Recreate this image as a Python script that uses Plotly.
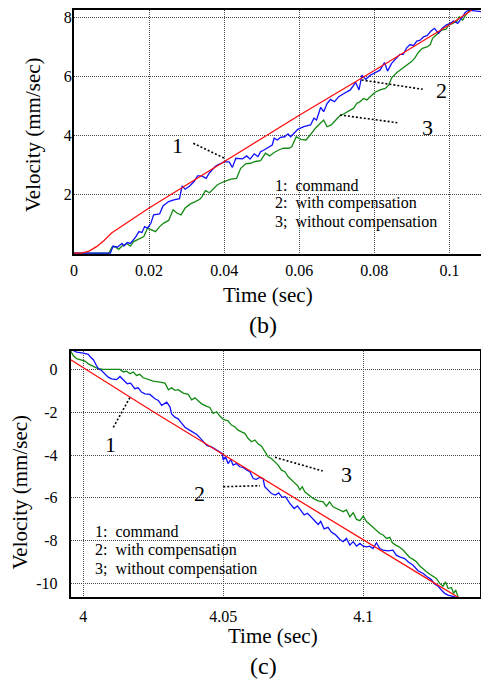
import plotly.graph_objects as go

W, H = 481, 682
FONT = "Liberation Serif, Times New Roman, serif"

# ---------------- data: panel (b) ----------------
B_XTICKS = [0, 0.02, 0.04, 0.06, 0.08, 0.1]
B_XTICKTEXT = ["0", "0.02", "0.04", "0.06", "0.08", "0.1"]
B_YTICKS = [0, 2, 4, 6, 8]
B_YTICKTEXT = ["", "2", "4", "6", "8"]

B_COMMAND = [(0, 0), (0.002, 0.0), (0.004, 0.07), (0.006, 0.22), (0.008, 0.43), (0.010, 0.68),
             (0.020, 1.53), (0.040, 3.10), (0.060, 4.68), (0.080, 6.20), (0.100, 7.75),
             (0.1054, 8.20), (0.109, 8.55)]

B_WITH = [(0, 0), (0.0097, 0.0), (0.0104, 0.24), (0.0115, 0.2), (0.0128, 0.33), (0.0133, 0.24),
          (0.0142, 0.36), (0.015, 0.33), (0.0164, 0.54), (0.0173, 0.73), (0.0181, 0.7),
          (0.0188, 0.9), (0.0196, 0.85), (0.0205, 1.02), (0.0212, 1.3), (0.0228, 1.33),
          (0.0237, 1.6), (0.0252, 1.75), (0.0266, 1.81), (0.0281, 1.85), (0.0288, 2.28),
          (0.0296, 2.17), (0.0308, 2.28), (0.032, 2.43), (0.0329, 2.62), (0.034, 2.62),
          (0.0352, 2.54), (0.0361, 2.73), (0.0376, 2.94), (0.0382, 2.99), (0.04, 3.1),
          (0.0413, 3.1), (0.0422, 2.91), (0.0431, 3.22), (0.0449, 3.2), (0.046, 3.3),
          (0.0469, 3.19), (0.048, 3.37), (0.049, 3.28), (0.0497, 3.44), (0.0506, 3.5),
          (0.052, 3.61), (0.0528, 3.67), (0.0533, 3.9), (0.0542, 3.84), (0.055, 3.93),
          (0.0561, 3.95), (0.057, 4.05), (0.0577, 3.95), (0.0586, 4.07), (0.0596, 4.2),
          (0.0612, 4.29), (0.063, 4.35), (0.0639, 4.58), (0.0646, 4.52), (0.0657, 4.95),
          (0.0665, 4.8), (0.0674, 5.08), (0.0683, 5.22), (0.0694, 5.14), (0.0705, 5.31),
          (0.0719, 5.42), (0.0736, 5.54), (0.075, 5.8), (0.0759, 5.54), (0.0767, 6.04),
          (0.0777, 5.9), (0.0789, 6.04), (0.0806, 6.16), (0.0815, 6.21), (0.0827, 6.47),
          (0.0835, 6.18), (0.0846, 6.44), (0.0857, 6.61), (0.0868, 6.75), (0.0877, 6.75),
          (0.0886, 6.97), (0.0895, 7.08), (0.0904, 7.04), (0.0913, 7.2), (0.0922, 7.23),
          (0.0931, 7.34), (0.094, 7.38), (0.0951, 7.54), (0.096, 7.63), (0.0971, 7.46),
          (0.098, 7.63), (0.0991, 7.74), (0.1002, 7.8), (0.1011, 7.88), (0.1022, 7.8),
          (0.1033, 7.99), (0.1042, 8.17), (0.1051, 8.25), (0.106, 8.23), (0.1084, 8.2)]

B_WITHOUT = [(0, 0), (0.0093, 0.0), (0.0102, 0.22), (0.0111, 0.2), (0.0119, 0.13), (0.0128, 0.24),
             (0.014, 0.33), (0.015, 0.24), (0.0159, 0.39), (0.0173, 0.47), (0.0186, 0.56),
             (0.0196, 0.85), (0.0208, 0.77), (0.0217, 0.73), (0.0228, 0.9), (0.0239, 1.02),
             (0.0252, 1.11), (0.0264, 1.47), (0.0274, 1.36), (0.0285, 1.3), (0.0296, 1.53),
             (0.031, 1.67), (0.0323, 1.75), (0.0335, 1.83), (0.0341, 1.92), (0.035, 2.12),
             (0.0361, 2.05), (0.0372, 2.2), (0.0382, 2.32), (0.04, 2.43), (0.0418, 2.51),
             (0.0433, 2.54), (0.0444, 2.88), (0.0457, 3.03), (0.047, 3.05), (0.0483, 3.11),
             (0.0497, 3.14), (0.051, 3.39), (0.0521, 3.3), (0.0532, 3.41), (0.0545, 3.5),
             (0.0558, 3.56), (0.0572, 3.56), (0.058, 3.61), (0.0592, 3.95), (0.0604, 3.86),
             (0.0618, 3.84), (0.0629, 4.01), (0.0643, 4.24), (0.0656, 4.41), (0.0665, 4.52),
             (0.0674, 4.29), (0.0685, 4.35), (0.0696, 4.5), (0.0708, 4.66), (0.0719, 4.73),
             (0.0731, 4.83), (0.0745, 4.92), (0.0753, 5.08), (0.0762, 5.14), (0.0771, 5.25),
             (0.078, 5.2), (0.0789, 5.31), (0.0802, 5.46), (0.0815, 5.54), (0.0829, 5.59),
             (0.0838, 5.7), (0.0846, 5.95), (0.086, 6.13), (0.0873, 6.25), (0.0886, 6.38),
             (0.0899, 6.5), (0.0908, 6.63), (0.0917, 6.81), (0.0928, 6.95), (0.094, 7.0),
             (0.0949, 7.08), (0.0955, 7.29), (0.0966, 7.42), (0.098, 7.57), (0.0991, 7.6),
             (0.0998, 7.74), (0.1009, 7.8), (0.102, 7.88), (0.1026, 8.02), (0.1035, 7.91),
             (0.1044, 8.1), (0.1053, 8.21), (0.106, 8.3)]

# ---------------- data: panel (c) ----------------
C_XTICKS = [4, 4.05, 4.1]
C_XTICKTEXT = ["4", "4.05", "4.1"]
C_YTICKS = [0, -2, -4, -6, -8, -10]
C_YTICKTEXT = ["0", "-2", "-4", "-6", "-8", "-10"]

C_COMMAND = [(3.9955, 0.45), (4.0, 0.08), (4.025, -1.98), (4.05, -3.98), (4.075, -5.98),
             (4.1, -7.96), (4.125, -9.95), (4.1343, -10.68)]

C_WITH = [(3.9955, 0.95), (3.9964, 0.89), (3.9976, 0.81), (4.0, 0.76), (4.0018, 0.7), (4.0026, 0.57),
          (4.0036, 0.45), (4.0045, 0.23), (4.0054, 0.03), (4.0065, -0.05), (4.0077, -0.2),
          (4.0089, -0.36), (4.0101, -0.44), (4.0119, -0.48), (4.0131, -0.33), (4.0143, -0.51),
          (4.0157, -0.67), (4.0169, -0.64), (4.0184, -0.9), (4.0196, -0.86), (4.0208, -1.06),
          (4.022, -1.14), (4.0238, -1.17), (4.0256, -1.37), (4.0268, -1.45), (4.028, -1.68),
          (4.0298, -1.53), (4.031, -1.76), (4.0315, -2.07), (4.0327, -2.23), (4.0339, -2.31),
          (4.0351, -2.51), (4.0363, -2.7), (4.0381, -2.85), (4.0393, -2.93), (4.0405, -3.04),
          (4.0417, -3.2), (4.0429, -3.4), (4.0441, -3.55), (4.0458, -3.62), (4.0482, -3.8),
          (4.0496, -3.93), (4.05, -4.24), (4.0508, -4.08), (4.0517, -4.4), (4.0527, -4.21),
          (4.0535, -4.47), (4.0547, -4.4), (4.0559, -4.55), (4.0571, -4.58), (4.0583, -4.7),
          (4.0595, -4.78), (4.0607, -5.1), (4.0618, -5.14), (4.063, -5.05), (4.0642, -5.1),
          (4.0648, -5.48), (4.066, -5.64), (4.0672, -5.8), (4.0686, -5.87), (4.0698, -5.77),
          (4.071, -5.98), (4.0722, -5.95), (4.0737, -6.25), (4.0753, -6.5), (4.0765, -6.38),
          (4.0777, -6.62), (4.0789, -6.8), (4.0801, -6.72), (4.0815, -6.92), (4.0827, -7.08),
          (4.0839, -7.25), (4.0848, -7.1), (4.086, -7.45), (4.0874, -7.38), (4.0886, -7.6),
          (4.09, -7.72), (4.0916, -7.94), (4.0928, -8.05), (4.094, -7.9), (4.0952, -8.21),
          (4.0964, -8.05), (4.0976, -8.26), (4.0988, -8.13), (4.1, -8.26), (4.1012, -8.29),
          (4.1023, -8.26), (4.1035, -8.37), (4.1047, -8.1), (4.1059, -8.37), (4.1071, -8.45),
          (4.1089, -8.48), (4.1106, -8.45), (4.1118, -8.68), (4.113, -8.76), (4.1148, -8.84),
          (4.116, -8.99), (4.1178, -9.15), (4.1196, -9.41), (4.1214, -9.54), (4.1228, -9.69),
          (4.1243, -9.82), (4.1255, -10.03), (4.1267, -10.13), (4.1279, -10.31), (4.1291, -10.47),
          (4.1303, -10.55), (4.1321, -10.63), (4.1333, -10.65)]

C_WITHOUT = [(3.9955, 0.86), (3.9964, 0.65), (3.9976, 0.5), (3.9988, 0.45), (4.0006, 0.39),
             (4.0018, 0.26), (4.0036, 0.14), (4.0054, 0.03), (4.0071, 0.0), (4.0131, 0.0),
             (4.0143, -0.12), (4.0155, -0.08), (4.0167, -0.2), (4.0179, -0.12), (4.019, -0.28),
             (4.0202, -0.23), (4.0214, -0.39), (4.0232, -0.48), (4.025, -0.55), (4.0274, -0.59),
             (4.0292, -0.64), (4.0304, -0.95), (4.0315, -0.86), (4.0327, -0.98), (4.0339, -0.95),
             (4.0357, -1.11), (4.0375, -1.17), (4.0387, -1.42), (4.0399, -1.33), (4.0411, -1.48),
             (4.0423, -1.61), (4.0441, -1.73), (4.0452, -1.78), (4.0464, -2.06), (4.0476, -1.98),
             (4.0488, -2.18), (4.05, -2.34), (4.0517, -2.4), (4.0529, -2.6), (4.0541, -2.68),
             (4.0553, -2.84), (4.0565, -2.92), (4.0577, -2.99), (4.0589, -3.23), (4.0601, -3.38),
             (4.0613, -3.3), (4.0625, -3.49), (4.0636, -3.58), (4.0648, -3.85), (4.066, -4.08),
             (4.0672, -4.16), (4.0684, -4.32), (4.0696, -4.47), (4.0708, -4.71), (4.072, -4.78),
             (4.0732, -5.02), (4.0744, -5.17), (4.0756, -5.36), (4.0767, -5.45), (4.0773, -5.64),
             (4.0782, -5.48), (4.0791, -5.72), (4.0805, -5.87), (4.0821, -6.03), (4.0839, -6.14),
             (4.0857, -6.19), (4.0868, -6.39), (4.088, -6.19), (4.0892, -6.42), (4.0908, -6.5),
             (4.0916, -6.57), (4.0928, -6.65), (4.094, -6.57), (4.0952, -6.89), (4.0964, -6.7),
             (4.0976, -7.01), (4.0988, -7.07), (4.1, -6.86), (4.1012, -7.12), (4.103, -7.32),
             (4.1047, -7.51), (4.1059, -7.67), (4.1071, -7.74), (4.1083, -7.9), (4.1095, -7.85),
             (4.1104, -8.1), (4.1116, -8.21), (4.1128, -8.29), (4.1142, -8.44), (4.1154, -8.63),
             (4.1166, -8.79), (4.1178, -8.88), (4.119, -8.99), (4.1202, -9.19), (4.1214, -9.35),
             (4.1226, -9.46), (4.1238, -9.57), (4.125, -9.69), (4.1261, -9.77), (4.1273, -10.0),
             (4.1285, -10.13), (4.1294, -9.93), (4.1303, -10.24), (4.1315, -10.19), (4.1323, -10.47),
             (4.133, -10.31), (4.1339, -10.63)]

LEGEND_LINES = ["1:\u00a0\u00a0command", "2:\u00a0\u00a0with compensation",
                "3;\u00a0\u00a0without compensation"]

# ---------------- styling ----------------
RED, BLUE, GREEN = "#ff1010", "#1010ff", "#138a13"


def px(x):
    return x / W


def py(y):
    return 1 - y / H


fig = go.Figure()


def add_series(data, color, xa, ya):
    xs = [p[0] for p in data]
    ys = [p[1] for p in data]
    fig.add_trace(go.Scatter(x=xs, y=ys, mode="lines", line=dict(color=color, width=1.3),
                             xaxis=xa, yaxis=ya, showlegend=False, hoverinfo="skip"))


add_series(B_WITHOUT, GREEN, "x", "y")
add_series(B_WITH, BLUE, "x", "y")
add_series(B_COMMAND, RED, "x", "y")
add_series(C_WITHOUT, GREEN, "x2", "y2")
add_series(C_WITH, BLUE, "x2", "y2")
add_series(C_COMMAND, RED, "x2", "y2")

grid = dict(showgrid=True, gridcolor="#4a4a4a", gridwidth=1, griddash="1px,1px",
            zeroline=False, showline=True, linecolor="black", linewidth=2,
            ticks="", automargin=False, tickfont=dict(family=FONT, size=16, color="black"))

fig.update_layout(
    width=W, height=H, margin=dict(l=0, r=0, t=0, b=0, pad=0),
    paper_bgcolor="white", plot_bgcolor="white", showlegend=False,
    font=dict(family=FONT, color="black"),
    xaxis=dict(domain=[px(74), 1.0], range=[0, 0.1084], tickvals=B_XTICKS, ticktext=B_XTICKTEXT,
               mirror=True, anchor="y", ticklabelstandoff=1, **grid),
    yaxis=dict(domain=[py(254), py(9.5)], range=[-0.03, 8.27], tickvals=B_YTICKS,
               ticktext=B_YTICKTEXT, mirror=False, anchor="x", ticklabelstandoff=-3, **grid),
    xaxis2=dict(domain=[px(70.7), px(480)], range=[3.9955, 4.1417], tickvals=C_XTICKS,
                ticktext=C_XTICKTEXT, mirror=True, anchor="y2", ticklabelstandoff=3, **grid),
    yaxis2=dict(domain=[py(597.3), py(351)], range=[-10.65, 0.86], tickvals=C_YTICKS,
                ticktext=C_YTICKTEXT, mirror=True, anchor="x2", ticklabelstandoff=8, **grid),
)

shapes = []
# white legend boxes hiding the grid
shapes.append(dict(type="rect", xref="paper", yref="paper", x0=px(254), x1=px(463),
                   y0=py(242), y1=py(166), fillcolor="white", line=dict(width=0), layer="between"))
shapes.append(dict(type="rect", xref="paper", yref="paper", x0=px(72), x1=px(295),
                   y0=py(588), y1=py(511.7), fillcolor="white", line=dict(width=0), layer="between"))
# dotted callout lines
for (xa, ya, xb, yb) in [(193.3, 143.3, 224, 158), (361.7, 80, 422.7, 89.3), (340, 115, 397.3, 122.7),
                         (113.3, 427.3, 130, 397.3), (223.3, 486.7, 260, 485.7), (275, 457.3, 322.7, 471)]:
    shapes.append(dict(type="line", xref="paper", yref="paper", x0=px(xa), y0=py(ya), x1=px(xb), y1=py(yb),
                       line=dict(color="black", width=1.6, dash="2px,2px")))
fig.update_layout(shapes=shapes)

ann = []


def text(s, x, y, size, xanchor="center", angle=0):
    ann.append(dict(text=s, x=px(x), y=py(y), xref="paper", yref="paper", showarrow=False,
                    xanchor=xanchor, yanchor="middle", textangle=angle,
                    font=dict(family=FONT, size=size, color="black")))


# callout numbers
text("1", 177.7, 145, 22)
text("2", 441.7, 90, 22)
text("3", 427.7, 127.5, 22)
text("1", 110, 444, 22)
text("2", 199.3, 493.5, 22)
text("3", 346.7, 474, 22)
# legends
for i, (yb, yc) in enumerate(zip([185, 203.3, 221.7], [531.7, 550, 569.3])):
    text(LEGEND_LINES[i], 273, yb, 16, xanchor="left")
    text(LEGEND_LINES[i], 92.7, yc, 16, xanchor="left")
# axis titles and panel labels
text("Time (sec)", 268, 295, 21)
text("Time (sec)", 272.7, 636, 21)
text("Velocity (mm/sec)", 33, 135, 21, angle=-90)
text("Velocity (mm/sec)", 19, 492.5, 21, angle=-90)
text("(b)", 263, 325, 24)
text("(c)", 263, 666, 24)
fig.update_layout(annotations=ann)

fig.write_html("out.html", config={"displayModeBar": False},
               post_script="document.body.style.margin='0px';document.body.style.overflow='hidden';")
